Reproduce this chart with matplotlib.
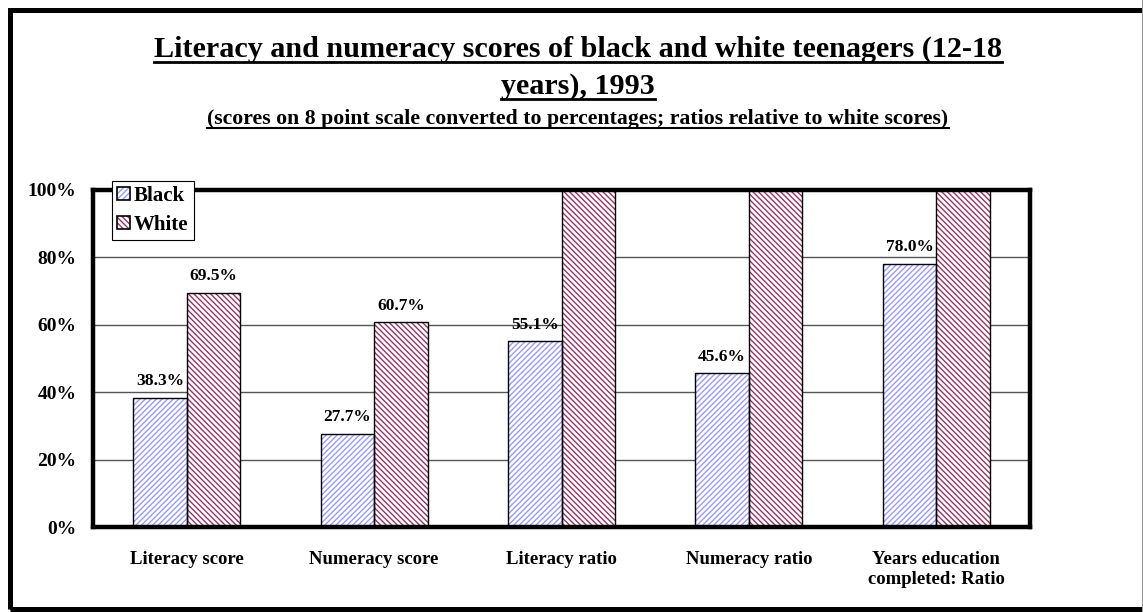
import matplotlib
matplotlib.use("Agg")
import matplotlib.pyplot as plt
import numpy as np
from matplotlib.patches import Rectangle, Patch
from matplotlib.lines import Line2D

categories = ["Literacy score", "Numeracy score", "Literacy ratio",
              "Numeracy ratio", "Years education\ncompleted: Ratio"]
black = [38.3, 27.7, 55.1, 45.6, 78.0]
white = [69.5, 60.7, 100.0, 100.0, 100.0]
yticks = [0, 20, 40, 60, 80, 100]

title1 = "Literacy and numeracy scores of black and white teenagers (12-18"
title2 = "years), 1993"
subtitle = "(scores on 8 point scale converted to percentages; ratios relative to white scores)"

plt.rcParams["font.family"] = ["Liberation Serif", "DejaVu Serif"]
plt.rcParams["font.weight"] = "bold"
plt.rcParams["hatch.linewidth"] = 1.0

W, H = 1143, 612
fig = plt.figure(figsize=(W / 100, H / 100), dpi=100)
ax = fig.add_axes([93 / W, 1 - 527 / H, (1030 - 93) / W, (527 - 190) / H])

blue = "#9999ff"
maroon = "#993366"
x = np.arange(len(categories))
w = 0.286

# hatched fills first, black outlines on top
ax.bar(x - w / 2, black, w, color="white", edgecolor=blue, hatch="//////", lw=0, zorder=2)
ax.bar(x + w / 2, white, w, color="white", edgecolor=maroon, hatch="\\\\\\\\\\\\", lw=0, zorder=2)
ax.bar(x - w / 2, black, w, fill=False, edgecolor="black", lw=1.0, zorder=3)
ax.bar(x + w / 2, white, w, fill=False, edgecolor="black", lw=1.0, zorder=3)

for xi, v in zip(x, black):
    ax.text(xi - w / 2, v + 2.6, f"{v:.1f}%", ha="center", va="bottom", fontsize=12.5, fontweight="bold")
for xi, v in zip(x, white):
    if v < 100:
        ax.text(xi + w / 2, v + 2.6, f"{v:.1f}%", ha="center", va="bottom", fontsize=12.5, fontweight="bold")

ax.set_xlim(-0.5, len(categories) - 0.5)
ax.set_ylim(0, 100)
ax.set_yticks(yticks)
ax.set_yticklabels([f"{t}%" for t in yticks], fontsize=14, fontweight="bold")
ax.set_xticks(x)
ax.set_xticklabels(categories, fontsize=13.5, fontweight="bold", linespacing=1.25)
ax.tick_params(axis="both", length=0)
ax.tick_params(axis="y", pad=12)
ax.tick_params(axis="x", pad=17)
ax.yaxis.grid(True, color="#555555", lw=1.0)
ax.set_axisbelow(True)
for s in ax.spines.values():
    s.set_linewidth(3.2)
    s.set_color("black")

hb = (Patch(facecolor="white", edgecolor=blue, hatch="//////", lw=0),
      Patch(fill=False, edgecolor="black", lw=1.2))
hw = (Patch(facecolor="white", edgecolor=maroon, hatch="\\\\\\\\\\\\", lw=0),
      Patch(fill=False, edgecolor="black", lw=1.2))
leg = fig.legend([hb, hw], ["Black", "White"], loc="upper left",
                 bbox_to_anchor=(112 / W, 1 - 181 / H), borderaxespad=0,
                 fancybox=False, edgecolor="black", framealpha=1,
                 prop={"size": 15, "weight": "bold"}, handlelength=0.6,
                 handleheight=0.6, handletextpad=0.2, borderpad=0.25,
                 labelspacing=0.4)
leg.get_frame().set_linewidth(0.8)
leg.set_zorder(10)

# outer border of the chart area
fig.add_artist(Rectangle((9.5 / W, 1 - 609 / H), 1.2, (609 - 10) / H, transform=fig.transFigure,
                         fill=False, edgecolor="black", lw=3.6, clip_on=False))
fig.add_artist(Line2D([1142 / W, 1142 / W], [0, 1], color="#999999", lw=0.8))

cx = 578 / W
t1 = fig.text(cx, 1 - 57 / H, title1, ha="center", va="baseline", fontsize=21.7, fontweight="bold")
t2 = fig.text(cx, 1 - 94 / H, title2, ha="center", va="baseline", fontsize=21.7, fontweight="bold")
t3 = fig.text(cx, 1 - 124 / H, subtitle, ha="center", va="baseline", fontsize=15.7, fontweight="bold")

# underline the titles just below their baselines
fig.canvas.draw()
r = fig.canvas.get_renderer()
for t, base, gap, lw in [(t1, 57, 5, 2.0), (t2, 94, 5, 2.0), (t3, 124, 4, 1.5)]:
    bb = t.get_window_extent(r)
    y = 1 - (base + gap) / H
    fig.add_artist(Line2D([bb.x0 / W, bb.x1 / W], [y, y], color="black", lw=lw))

fig.savefig("out.png", dpi=100)
